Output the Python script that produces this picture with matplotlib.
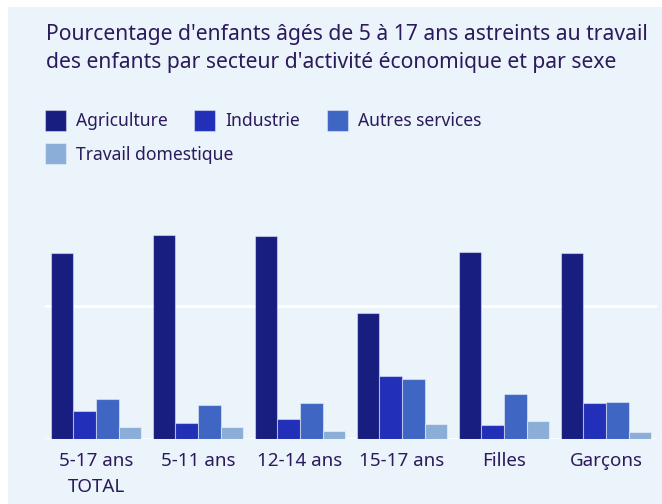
import numpy as np
import matplotlib
matplotlib.use("Agg")
from matplotlib import pyplot as plt
from matplotlib.patches import Rectangle

plt.rcParams['font.family'] = ['Noto Sans', 'DejaVu Sans']

# données (pourcentages)
categories = ["5-17 ans\nTOTAL", "5-11 ans", "12-14 ans", "15-17 ans", "Filles", "Garçons"]
series = ["Agriculture", "Industrie", "Autres services", "Travail domestique"]
agriculture = [70.0, 76.6, 76.1, 47.5, 70.4, 70.0]
industrie = [10.4, 6.0, 7.4, 23.8, 5.4, 13.4]
autres_services = [15.2, 12.8, 13.6, 22.7, 17.0, 13.8]
travail_domestique = [4.4, 4.6, 2.9, 5.6, 6.9, 2.7]
values = [agriculture, industrie, autres_services, travail_domestique]

colors = ["#171E80", "#222FB8", "#4066C4", "#8BAED8"]
bg = "#EBF3FB"
txt = "#2B1A5C"

W, H = 662, 504
fig = plt.figure(figsize=(W / 100, H / 100), dpi=100)
fig.patch.set_facecolor("white")
fig.add_artist(Rectangle((8 / W, 0), 1, (H - 7) / H, transform=fig.transFigure,
                         facecolor=bg, edgecolor="none", zorder=-10))

# titre
fig.text(46 / W, 1 - 40 / H, "Pourcentage d'enfants âgés de 5 à 17 ans astreints au travail",
         fontsize=15.2, color=txt, va="baseline", ha="left")
fig.text(46 / W, 1 - 68 / H, "des enfants par secteur d'activité économique et par sexe",
         fontsize=15.2, color=txt, va="baseline", ha="left")

# légende
leg_pos = [(45, 120), (194, 120), (327, 120), (45, 153)]
for (lx, ly), name, c in zip(leg_pos, series, colors):
    fig.add_artist(Rectangle((lx / W, 1 - (ly + 10.5) / H), 21 / W, 21 / H,
                             transform=fig.transFigure, facecolor=c,
                             edgecolor=(1, 1, 1, 0.4), lw=0.8))
    fig.text((lx + 31) / W, 1 - (ly + 6.5) / H, name, fontsize=12.6, color=txt,
             va="baseline", ha="left")

# graphique
ymax = 80
ax = fig.add_axes([45 / W, 1 - 439 / H, 612 / W, (439 - 226) / H])
ax.set_facecolor(bg)
x = np.arange(len(categories))
w = 0.2225
for i, (vals, c) in enumerate(zip(values, colors)):
    ax.bar(x + (i - 1.5) * w, vals, width=w, color=c,
           edgecolor=(1, 1, 1, 0.45), linewidth=0.8, zorder=3)

ax.set_xlim(-0.5, len(categories) - 0.5)
ax.set_ylim(0, ymax)
ax.set_yticks([0, 50])
ax.set_yticklabels([])
ax.tick_params(axis="y", length=0)
ax.grid(axis="y", color="white", linewidth=2, zorder=0)
ax.set_xticks(x)
ax.set_xticklabels(categories, fontsize=13.5, color=txt, linespacing=1.6)
ax.tick_params(axis="x", length=0, pad=9)
for s in ax.spines.values():
    s.set_visible(False)

plt.savefig("out.png", dpi=100, facecolor=fig.get_facecolor())
